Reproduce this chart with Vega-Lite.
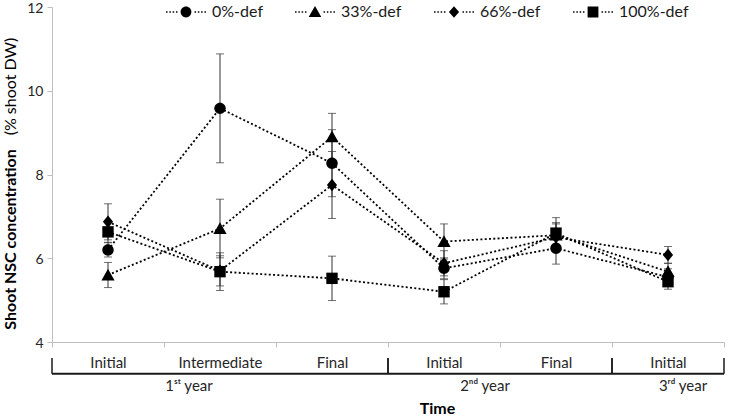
{
  "$schema": "https://vega.github.io/schema/vega-lite/v6.json",
  "width": 672,
  "height": 335,
  "autosize": {"type": "none"},
  "padding": {"left": 52, "top": 7, "right": 6, "bottom": 74},
  "background": "white",
  "config": {
    "font": "Lato",
    "view": {"stroke": null},
    "axis": {"grid": false, "domainColor": "#bfbfbf", "tickColor": "#bfbfbf", "labelColor": "#262626", "titleColor": "#000000", "labelFont": "Lato", "titleFont": "Lato"},
    "legend": {"labelFont": "Lato"},
    "text": {"font": "Lato"}
  },
  "datasets": {
    "nsc": [
      {"key": "1|Initial", "group": "0%-def", "mean": 6.20, "err": 0.17},
      {"key": "1|Initial", "group": "33%-def", "mean": 5.60, "err": 0.30},
      {"key": "1|Initial", "group": "66%-def", "mean": 6.87, "err": 0.43},
      {"key": "1|Initial", "group": "100%-def", "mean": 6.63, "err": 0.25},
      {"key": "2|Intermediate", "group": "0%-def", "mean": 9.58, "err": 1.30},
      {"key": "2|Intermediate", "group": "33%-def", "mean": 6.71, "err": 0.70},
      {"key": "2|Intermediate", "group": "66%-def", "mean": 5.70, "err": 0.36},
      {"key": "2|Intermediate", "group": "100%-def", "mean": 5.68, "err": 0.45},
      {"key": "3|Final", "group": "0%-def", "mean": 8.27, "err": 0.80},
      {"key": "3|Final", "group": "33%-def", "mean": 8.90, "err": 0.56},
      {"key": "3|Final", "group": "66%-def", "mean": 7.75, "err": 0.80},
      {"key": "3|Final", "group": "100%-def", "mean": 5.52, "err": 0.53},
      {"key": "4|Initial", "group": "0%-def", "mean": 5.76, "err": 0.25},
      {"key": "4|Initial", "group": "33%-def", "mean": 6.40, "err": 0.42},
      {"key": "4|Initial", "group": "66%-def", "mean": 5.88, "err": 0.30},
      {"key": "4|Initial", "group": "100%-def", "mean": 5.20, "err": 0.29},
      {"key": "5|Final", "group": "0%-def", "mean": 6.24, "err": 0.38},
      {"key": "5|Final", "group": "33%-def", "mean": 6.55, "err": 0.30},
      {"key": "5|Final", "group": "66%-def", "mean": 6.50, "err": 0.32},
      {"key": "5|Final", "group": "100%-def", "mean": 6.60, "err": 0.37},
      {"key": "6|Initial", "group": "0%-def", "mean": 5.55, "err": 0.20},
      {"key": "6|Initial", "group": "33%-def", "mean": 5.68, "err": 0.20},
      {"key": "6|Initial", "group": "66%-def", "mean": 6.08, "err": 0.20},
      {"key": "6|Initial", "group": "100%-def", "mean": 5.44, "err": 0.18}
    ],
    "years": [
      {"key": "2|Intermediate", "label": "1ˢᵗ year"},
      {"key": "4|Initial", "label": "2ⁿᵈ year"},
      {"key": "6|Initial", "label": "3ʳᵈ year"}
    ]
  },
  "resolve": {"axis": {"y": "independent"}, "scale": {"shape": "independent"}},
  "layer": [
    {
      "data": {"name": "nsc"},
      "mark": {"type": "errorbar", "ticks": {"size": 8, "thickness": 1, "color": "#333333"}, "rule": {"strokeWidth": 1, "color": "#333333"}},
      "encoding": {
        "x": {"field": "key", "type": "nominal", "sort": null,
          "scale": {"domain": ["1|Initial", "2|Intermediate", "3|Final", "4|Initial", "5|Final", "6|Initial"], "paddingInner": 0, "paddingOuter": 0},
          "axis": {"title": "Time", "labelExpr": "split(datum.value, '|')[1]", "labelAngle": 0, "labelFontSize": 15, "labelBaseline": "middle", "labelPadding": 15, "tickSize": 5, "tickBand": "extent", "titleFontSize": 16, "titleFontWeight": "bold", "titleX": 385, "titleY": 66, "titleBaseline": "middle", "titleAlign": "center"}},
        "y": {"field": "mean", "type": "quantitative", "scale": {"domain": [4, 12], "zero": false, "nice": false}, "axis": null},
        "yError": {"field": "err"},
        "detail": {"field": "group"}
      }
    },
    {
      "data": {"name": "nsc"},
      "mark": {"type": "line", "color": "#000000", "strokeWidth": 1.8, "strokeDash": [2, 2.3]},
      "encoding": {
        "x": {"field": "key", "type": "nominal", "sort": null},
        "y": {"field": "mean", "type": "quantitative",
          "axis": {"orient": "left", "values": [4, 6, 8, 10, 12], "labelFontSize": 14, "labelPadding": 4, "labelBaseline": "alphabetic", "labelOffset": 5, "tickSize": 5, "title": "Shoot NSC concentration", "titleFontSize": 16, "titleFontWeight": "bold", "titleX": -37, "titleY": 232, "titleAngle": 270, "titleAlign": "center", "titleBaseline": "alphabetic"}},
        "detail": {"field": "group"}
      }
    },
    {
      "data": {"name": "nsc"},
      "mark": {"type": "point", "filled": true, "opacity": 1, "size": 144, "color": "#000000", "strokeWidth": 0},
      "encoding": {
        "x": {"field": "key", "type": "nominal", "sort": null},
        "y": {"field": "mean", "type": "quantitative",
          "axis": {"orient": "left", "labels": false, "ticks": false, "domain": false, "title": "(% shoot DW)", "titleFontSize": 16, "titleFontWeight": "normal", "titleX": -37, "titleY": 79, "titleAngle": 270, "titleAlign": "center", "titleBaseline": "alphabetic"}},
        "shape": {"field": "group", "type": "nominal", "legend": null,
          "scale": {"domain": ["0%-def", "33%-def", "66%-def", "100%-def"],
            "range": ["M-0.95,0A0.95,0.95,0,1,0,0.95,0A0.95,0.95,0,1,0,-0.95,0Z", "M0,-1.05L1.1,0.9L-1.1,0.9Z", "M0,-1.05L0.85,0L0,1.05L-0.85,0Z", "M-0.95,-0.95H0.95V0.95H-0.95Z"]}
        }
      }
    },
    {
      "data": {"name": "nsc"},
      "transform": [{"filter": "datum.mean < 0"}],
      "mark": {"type": "point", "filled": true, "opacity": 1, "size": 144, "color": "#000000", "strokeWidth": 0},
      "encoding": {
        "x": {"field": "key", "type": "nominal", "sort": null},
        "y": {"field": "mean", "type": "quantitative", "axis": null},
        "shape": {"field": "group", "type": "nominal",
          "scale": {"domain": ["0%-def", "33%-def", "66%-def", "100%-def"],
            "range": [
              "M-0.9,0A0.9,0.9,0,1,0,0.9,0A0.9,0.9,0,1,0,-0.9,0ZM-3.325,-0.13h0.25v0.26h-0.25zM-2.775,-0.13h0.25v0.26h-0.25zM-2.225,-0.13h0.25v0.26h-0.25zM-1.675,-0.13h0.25v0.26h-0.25zM1.425,-0.13h0.25v0.26h-0.25zM1.975,-0.13h0.25v0.26h-0.25zM2.525,-0.13h0.25v0.26h-0.25zM3.075,-0.13h0.25v0.26h-0.25z",
              "M0,-1L1.05,0.85L-1.05,0.85ZM-3.325,-0.13h0.25v0.26h-0.25zM-2.775,-0.13h0.25v0.26h-0.25zM-2.225,-0.13h0.25v0.26h-0.25zM-1.675,-0.13h0.25v0.26h-0.25zM1.425,-0.13h0.25v0.26h-0.25zM1.975,-0.13h0.25v0.26h-0.25zM2.525,-0.13h0.25v0.26h-0.25zM3.075,-0.13h0.25v0.26h-0.25z",
              "M0,-0.95L0.85,0L0,0.95L-0.85,0ZM-3.325,-0.13h0.25v0.26h-0.25zM-2.775,-0.13h0.25v0.26h-0.25zM-2.225,-0.13h0.25v0.26h-0.25zM-1.675,-0.13h0.25v0.26h-0.25zM1.425,-0.13h0.25v0.26h-0.25zM1.975,-0.13h0.25v0.26h-0.25zM2.525,-0.13h0.25v0.26h-0.25zM3.075,-0.13h0.25v0.26h-0.25z",
              "M-0.9,-0.9H0.9V0.9H-0.9ZM-3.325,-0.13h0.25v0.26h-0.25zM-2.775,-0.13h0.25v0.26h-0.25zM-2.225,-0.13h0.25v0.26h-0.25zM-1.675,-0.13h0.25v0.26h-0.25zM1.425,-0.13h0.25v0.26h-0.25zM1.975,-0.13h0.25v0.26h-0.25zM2.525,-0.13h0.25v0.26h-0.25zM3.075,-0.13h0.25v0.26h-0.25z"
            ]},
          "legend": {"orient": "none", "legendX": 126, "legendY": -3, "direction": "horizontal", "title": null, "symbolSize": 144, "symbolFillColor": "#000000", "symbolOpacity": 1, "symbolStrokeWidth": 0, "labelFontSize": 16, "labelColor": "#1a1a1a", "labelOffset": 18, "columnPadding": 32}
        }
      }
    },
    {
      "data": {"name": "nsc"},
      "transform": [{"filter": "datum.group === '0%-def'"}],
      "mark": {"type": "bar", "color": "#1a1a1a"},
      "encoding": {
        "x": {"field": "key", "type": "nominal", "sort": null},
        "y": {"datum": 3.265, "type": "quantitative", "axis": null},
        "y2": {"datum": 3.22}
      }
    },
    {
      "data": {"name": "nsc"},
      "transform": [{"filter": "datum.group === '0%-def' && indexof(['1|Initial', '4|Initial', '6|Initial'], datum.key) >= 0"}],
      "mark": {"type": "rule", "color": "#1a1a1a", "strokeWidth": 1.5},
      "encoding": {
        "x": {"field": "key", "type": "nominal", "sort": null, "bandPosition": 0},
        "y": {"datum": 3.24, "type": "quantitative", "axis": null},
        "y2": {"datum": 3.62}
      }
    },
    {
      "data": {"name": "nsc"},
      "transform": [{"filter": "datum.group === '0%-def' && indexof(['3|Final', '5|Final', '6|Initial'], datum.key) >= 0"}],
      "mark": {"type": "rule", "color": "#1a1a1a", "strokeWidth": 1.5},
      "encoding": {
        "x": {"field": "key", "type": "nominal", "sort": null, "bandPosition": 1},
        "y": {"datum": 3.24, "type": "quantitative", "axis": null},
        "y2": {"datum": 3.62}
      }
    },
    {
      "data": {"name": "years"},
      "transform": [{"filter": "datum.key === '2|Intermediate'"}],
      "mark": {"type": "text", "fontSize": 15, "baseline": "middle", "dx": -31, "color": "#262626"},
      "encoding": {
        "x": {"field": "key", "type": "nominal", "sort": null},
        "y": {"datum": 2.95, "type": "quantitative", "axis": null},
        "text": {"field": "label"}
      }
    },
    {
      "data": {"name": "years"},
      "transform": [{"filter": "datum.key === '4|Initial'"}],
      "mark": {"type": "text", "fontSize": 15, "baseline": "middle", "dx": -15, "color": "#262626"},
      "encoding": {
        "x": {"field": "key", "type": "nominal", "sort": null, "bandPosition": 1},
        "y": {"datum": 2.95, "type": "quantitative", "axis": null},
        "text": {"field": "label"}
      }
    },
    {
      "data": {"name": "years"},
      "transform": [{"filter": "datum.key === '6|Initial'"}],
      "mark": {"type": "text", "fontSize": 15, "baseline": "middle", "dx": 15, "color": "#262626"},
      "encoding": {
        "x": {"field": "key", "type": "nominal", "sort": null},
        "y": {"datum": 2.95, "type": "quantitative", "axis": null},
        "text": {"field": "label"}
      }
    }
  ]
}
